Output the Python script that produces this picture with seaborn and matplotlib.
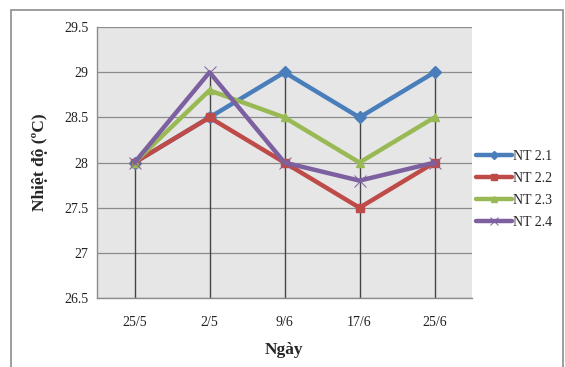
import pandas as pd
import numpy as np
import matplotlib.pyplot as plt
import matplotlib.patches as mpatches
import seaborn as sns

dates = ["25/5", "2/5", "9/6", "17/6", "25/6"]
nt21 = [28, 28.5, 29, 28.5, 29]
nt22 = [28, 28.5, 28, 27.5, 28]
nt23 = [28, 28.8, 28.5, 28, 28.5]
nt24 = [28, 29, 28, 27.8, 28]
series_names = ["NT 2.1", "NT 2.2", "NT 2.3", "NT 2.4"]
y_ticks = [26.5, 27, 27.5, 28, 28.5, 29, 29.5]

colors = {"NT 2.1": "#4a7ebb", "NT 2.2": "#be4b48", "NT 2.3": "#98b954", "NT 2.4": "#7d60a0"}
markers = {"NT 2.1": "D", "NT 2.2": "s", "NT 2.3": "^", "NT 2.4": "x"}

df = pd.DataFrame({
    "Ngày": dates * 4,
    "value": nt21 + nt22 + nt23 + nt24,
    "series": np.repeat(series_names, len(dates)),
})

sns.set_style("white")
plt.rcParams["font.family"] = ["Liberation Serif", "DejaVu Serif"]

fig = plt.figure(figsize=(5.65, 3.67), dpi=100)
ax = fig.add_axes([0.1717, 0.188, 0.6637, 0.738])
ax.set_facecolor("#e6e6e6")

# chart border
fig.patches.append(mpatches.Rectangle((0.0195, -0.05), 0.977, 1.023, transform=fig.transFigure,
                                      fill=False, edgecolor="#8c8c8c", linewidth=1.2))

for y in y_ticks:
    ax.axhline(y, color="#8c8c8c", linewidth=0.9, zorder=1)

# drop lines from top series to axis
x_pos = np.arange(len(dates))
tops = df.groupby("Ngày", sort=False)["value"].max().reindex(dates).values
ax.vlines(x_pos, y_ticks[0], tops, color="#444444", linewidth=1.0, zorder=1)

for name in series_names:
    sub = df[df["series"] == name]
    m = markers[name]
    sns.lineplot(data=sub, x="Ngày", y="value", color=colors[name], marker=m, sort=False,
                 linewidth=3.2, markersize=6 if m != "x" else 8,
                 markeredgewidth=1 if m != "x" else 0.7,
                 markeredgecolor=colors[name], label=name, ax=ax, zorder=3)

ax.set_xlim(-0.5, len(dates) - 0.5)
ax.set_ylim(26.5, 29.5)
ax.set_yticks(y_ticks)
ax.set_yticklabels(["26.5", "27", "27.5", "28", "28.5", "29", "29.5"])
ax.set_xticks(x_pos)
ax.set_xticklabels(dates)
ax.tick_params(axis="both", labelsize=10, length=5, color="#8c8c8c", colors="#222222")
ax.tick_params(axis="x", pad=8)
ax.tick_params(axis="y", pad=1)
for s in ["top", "right"]:
    ax.spines[s].set_visible(False)
for s in ["left", "bottom"]:
    ax.spines[s].set_color("#8c8c8c")
    ax.spines[s].set_linewidth(1)

ax.set_xlabel("Ngày", fontsize=12.5, fontweight="bold", labelpad=9)
ax.set_ylabel("Nhiệt độ (ºC)", fontsize=12.5, fontweight="bold", labelpad=12)

leg = ax.legend(loc="center left", bbox_to_anchor=(0.995, 0.40), frameon=False,
                fontsize=10, handlelength=2.6, handletextpad=0.1, labelspacing=0.65,
                borderaxespad=0, markerscale=0.7)

fig.savefig("out.png", dpi=100)
